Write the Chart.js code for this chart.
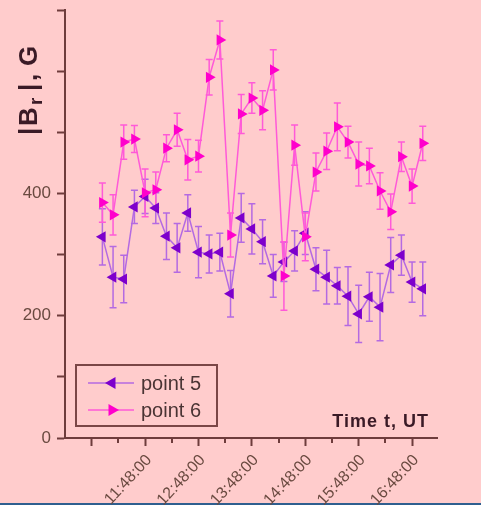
<!DOCTYPE html>
<html><head><meta charset="utf-8">
<script src="https://cdn.jsdelivr.net/npm/chart.js@4.4.0/dist/chart.umd.min.js"></script>
<style>html,body{margin:0;padding:0;background:#ffcccc;overflow:hidden}#wrap{width:481px;height:505px;position:relative}canvas{display:block}</style>
</head><body><div id="wrap"><canvas id="c" width="481" height="505"></canvas></div>
<script>
// ---- data ----
const times = ["11:00","11:12","11:24","11:36","11:48","12:00","12:12","12:24","12:36","12:48","13:00","13:12","13:24","13:36","13:48","14:00","14:12","14:24","14:36","14:48","15:00","15:12","15:24","15:36","15:48","16:00","16:12","16:24","16:36","16:48","17:00"];
const point5 = [329,263,260,378,395,376,330,311,368,304,301,304,236,360,342,321,265,288,306,335,276,263,249,232,203,231,214,283,299,255,244];
const point5Err = [46,50,39,27,28,25,38,40,30,42,31,31,38,40,41,36,35,32,33,35,35,44,30,48,47,40,55,45,33,33,44];
const point6 = [385,365,484,489,401,406,474,504,455,461,590,651,332,530,556,536,602,265,479,329,435,469,509,484,448,445,404,370,460,412,482];
const point6Err = [32,33,28,22,39,29,22,27,33,26,29,31,36,32,25,32,33,56,33,39,31,30,39,26,36,29,30,29,24,28,28];
const seriesNames = ["point 5","point 6"];
const yTickLabels = ["0","200","400"];
const xTickLabels = ["11:48:00","12:48:00","13:48:00","14:48:00","15:48:00","16:48:00"];

// ---- helpers ----
const toMin = s => { const [h,m] = s.split(":").map(Number); return h*60+m; };
const fmt = v => { const h = Math.floor(v/60), m = Math.round(v%60); return (h<10?"0":"")+h+":"+(m<10?"0":"")+m+":00"; };
const FONT = 'Arial, "Liberation Sans", sans-serif';
const AXIS = '#6e3c3c';
const LABEL = '#6a4a40';
const C5 = {line:'#b46ae2', mark:'#7d00cc'};
const C6 = {line:'#ff5ad8', mark:'#ff00cc'};
const errs = [point5Err, point6Err];
const errCols = [C5.line, C6.line];
const TICK0 = 648; // 10:48

const bgPlugin = {
  id:'bg',
  beforeDraw(chart){
    const c = chart.ctx; c.save(); c.fillStyle='#ffcccc'; c.fillRect(0,0,chart.width,chart.height);
    c.fillStyle='#2f5f8f'; c.fillRect(0,503,chart.width,2); c.restore();
  }
};
const errorBars = {
  id:'errorBars',
  beforeDatasetsDraw(chart){
    const c = chart.ctx, x = chart.scales.x, y = chart.scales.y;
    chart.data.datasets.forEach((ds,i)=>{
      c.save(); c.strokeStyle = errCols[i]; c.lineWidth = 1.5;
      ds.data.forEach((pt,j)=>{
        const px = x.getPixelForValue(pt.x);
        const t = y.getPixelForValue(pt.y + errs[i][j]);
        const b = y.getPixelForValue(pt.y - errs[i][j]);
        c.beginPath();
        c.moveTo(px,t); c.lineTo(px,b);
        c.moveTo(px-3.5,t); c.lineTo(px+3.5,t);
        c.moveTo(px-3.5,b); c.lineTo(px+3.5,b);
        c.stroke();
      });
      c.restore();
    });
  }
};
function tri(c, x, y, r, dir, col){
  c.save(); c.fillStyle = col; c.beginPath();
  if (dir < 0){ c.moveTo(x-r,y); c.lineTo(x+r*0.5,y-r*0.87); c.lineTo(x+r*0.5,y+r*0.87); }
  else { c.moveTo(x+r,y); c.lineTo(x-r*0.5,y-r*0.87); c.lineTo(x-r*0.5,y+r*0.87); }
  c.closePath(); c.fill(); c.restore();
}
const annot = {
  id:'annot',
  afterDraw(chart){
    const c = chart.ctx, x = chart.scales.x;
    // minor x ticks
    c.save(); c.strokeStyle = AXIS; c.lineWidth = 2;
    for (let v = TICK0+30; v <= 1008; v += 60){
      const px = Math.round(x.getPixelForValue(v));
      c.beginPath(); c.moveTo(px, x.top); c.lineTo(px, x.top+5); c.stroke();
    }
    c.restore();
    // legend
    c.save();
    c.strokeStyle = '#7a4646'; c.lineWidth = 2; c.strokeRect(76,365,141,61);
    const rows = [{y:383, col:C5, dir:-1},{y:410, col:C6, dir:1}];
    rows.forEach((r,i)=>{
      c.strokeStyle = r.col.line; c.lineWidth = 1.5;
      c.beginPath(); c.moveTo(88,r.y); c.lineTo(134,r.y); c.stroke();
      tri(c, 112, r.y, 7, r.dir, r.col.mark);
      c.fillStyle = '#4a3434'; c.font = '20px '+FONT; c.textBaseline='middle'; c.textAlign='left';
      c.fillText(seriesNames[i], 141, r.y+1);
    });
    // x title
    c.fillStyle = '#3a1a26'; c.font = 'bold 18px '+FONT; c.textAlign='right'; c.textBaseline='alphabetic';
    if ('letterSpacing' in c) c.letterSpacing = '1px';
    c.fillText('Time t, UT', 429, 427);
    if ('letterSpacing' in c) c.letterSpacing = '0px';
    // y title (rotated)
    c.textAlign = 'left'; c.textBaseline = 'alphabetic';
    c.translate(37,135); c.rotate(-Math.PI/2);
    c.fillStyle = '#3a1a26';
    c.font = 'bold 26px '+FONT;
    c.fillText('|', 0, 0);
    c.fillText('B', 9, 0);
    c.font = 'bold 19px '+FONT;
    c.fillText('r', 30, 5);
    c.font = 'bold 26px '+FONT;
    c.fillText('|', 44, 0);
    c.fillText(',', 54, 0);
    c.fillText('G', 69, 0);
    c.restore();
  }
};

const ds = (vals, name, col, dir, order) => ({
  label: name,
  data: vals.map((v,i)=>({x: toMin(times[i]), y: v})),
  borderColor: col.line, borderWidth: 1.5,
  pointStyle: 'triangle', pointRotation: dir, pointRadius: 6.5,
  pointBackgroundColor: col.mark, pointBorderColor: col.mark, pointBorderWidth: 0,
  tension: 0, order: order
});

new Chart(document.getElementById('c'), {
  type: 'line',
  data: { datasets: [ ds(point5, seriesNames[0], C5, -90, 1), ds(point6, seriesNames[1], C6, 90, 0) ] },
  options: {
    responsive: false, animation: false, devicePixelRatio: 1,
    layout: { padding: { top: 10, right: 44, left: 0, bottom: 0 } },
    plugins: { legend: {display:false}, tooltip: {enabled:false} },
    scales: {
      x: {
        type: 'linear', min: 618, max: 1036,
        afterBuildTicks: s => { const t=[]; for (let v=TICK0; v<=1008; v+=30) t.push({value:v}); s.ticks = t; },
        afterFit: s => { s.height = 67; s.paddingLeft = 0; s.paddingRight = 0; },
        border: { display: true, color: AXIS, width: 2 },
        grid: { drawOnChartArea: false, drawTicks: true, tickLength: 8, tickWidth: 2,
                tickColor: ctx => (ctx.tick && (ctx.tick.value-TICK0)%60===0) ? AXIS : 'rgba(0,0,0,0)' },
        ticks: {
          autoSkip: false, minRotation: 47, maxRotation: 47, padding: 5, labelOffset: 4,
          color: LABEL, font: { family: FONT, size: 16 },
          callback: v => { const s = fmt(v); return xTickLabels.includes(s) ? s : ''; }
        }
      },
      y: {
        min: 0, max: 700,
        afterFit: s => { s.width = 65; s.paddingTop = 0; s.paddingBottom = 0; },
        border: { display: true, color: AXIS, width: 2 },
        grid: { drawOnChartArea: false, drawTicks: true, tickLength: 8, tickWidth: 2, tickColor: AXIS },
        ticks: {
          stepSize: 100, padding: 6, color: LABEL, font: { family: FONT, size: 17 },
          callback: v => yTickLabels.includes(String(v)) ? String(v) : ''
        }
      }
    }
  },
  plugins: [bgPlugin, errorBars, annot]
});
</script>
</body></html>
